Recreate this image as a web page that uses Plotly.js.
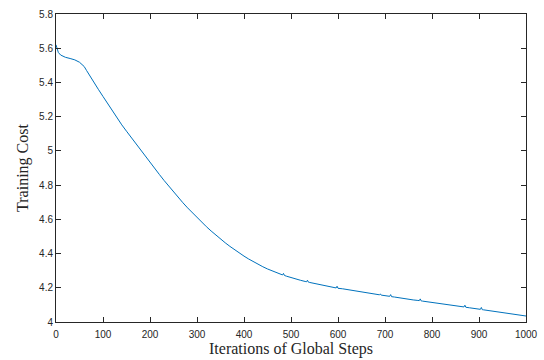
<!DOCTYPE html>
<html>
<head>
<meta charset="utf-8">
<script src="https://cdn.plot.ly/plotly-3.0.1.min.js"></script>
<style>html,body{margin:0;padding:0;background:#fff;}#chart{width:544px;height:360px;}</style>
</head>
<body>
<div id="chart"></div>
<script>
var steps = [0,2,5,10,20,30,40,50,55,60,65,70,75,80,90,100,110,120,130,140,150,160,170,180,190,200,
  210,220,230,240,250,260,270,280,290,300,310,320,330,340,350,360,370,380,390,400,
  410,420,430,440,450,460,470,480,482,484,486,490,500,510,520,530,533,535,537,540,550,560,570,580,590,
  596,598,600,610,620,630,640,650,660,670,680,688,690,692,700,710,712,714,720,730,740,750,760,770,773,775,777,
  780,790,800,810,820,830,840,850,860,868,870,872,880,890,900,903,905,907,910,920,930,940,950,955,960,965,970,975,980,985,990,995,1000];
var cost = [5.620,5.600,5.575,5.560,5.547,5.540,5.532,5.518,5.508,5.493,5.470,5.447,5.424,5.402,5.360,5.318,5.275,5.232,5.189,5.152,5.115,5.078,5.041,5.004,4.968,4.933,
  4.898,4.862,4.827,4.793,4.760,4.728,4.697,4.667,4.638,4.610,4.583,4.557,4.532,4.508,4.485,4.463,4.442,4.422,4.403,4.385,
  4.368,4.352,4.337,4.323,4.310,4.298,4.287,4.277,4.275,4.284,4.272,4.268,4.259,4.251,4.244,4.237,4.235,4.244,4.233,4.231,4.226,4.220,4.214,4.208,4.203,
  4.199,4.209,4.197,4.194,4.189,4.184,4.180,4.175,4.171,4.166,4.162,4.159,4.164,4.157,4.154,4.150,4.160,4.148,4.146,4.141,4.137,4.133,4.129,4.126,4.125,4.135,4.123,
  4.122,4.118,4.114,4.110,4.106,4.102,4.098,4.094,4.090,4.088,4.098,4.086,4.083,4.079,4.075,4.074,4.085,4.072,4.071,4.067,4.063,4.059,4.055,4.056,4.051,4.052,4.046,4.047,4.042,4.043,4.038,4.039,4.035];
var xTicks = [0,100,200,300,400,500,600,700,800,900,1000];
var yTicks = [4,4.2,4.4,4.6,4.8,5,5.2,5.4,5.6,5.8];
var yTickText = ['4','4.2','4.4','4.6','4.8','5','5.2','5.4','5.6','5.8'];

var axisCommon = {
  showgrid:false, zeroline:false, showline:true, linecolor:'#262626', linewidth:1,
  mirror:'allticks', ticks:'inside', ticklen:5, tickwidth:1, tickcolor:'#262626',
  tickfont:{family:'Liberation Sans, Arial, sans-serif', size:10, color:'#262626'}
};
var layout = {
  width:544, height:360,
  margin:{l:56, r:18, t:14, b:38},
  paper_bgcolor:'#fff', plot_bgcolor:'#fff',
  showlegend:false,
  xaxis: Object.assign({}, axisCommon, {
    range:[0,1000], tickmode:'array', tickvals:xTicks, ticklabelstandoff:3,
    title:{text:'Iterations of Global Steps', font:{family:'Liberation Serif, Times New Roman, serif', size:16, color:'#262626'}, standoff:3}
  }),
  yaxis: Object.assign({}, axisCommon, {
    range:[4,5.8], tickmode:'array', tickvals:yTicks, ticktext:yTickText,
    title:{text:'Training Cost', font:{family:'Liberation Serif, Times New Roman, serif', size:16, color:'#262626'}, standoff:6}
  })
};
var trace = {x:steps, y:cost, type:'scatter', mode:'lines', line:{color:'#0072BD', width:1}};
Plotly.newPlot('chart', [trace], layout, {displayModeBar:false, staticPlot:true});
</script>
</body>
</html>
